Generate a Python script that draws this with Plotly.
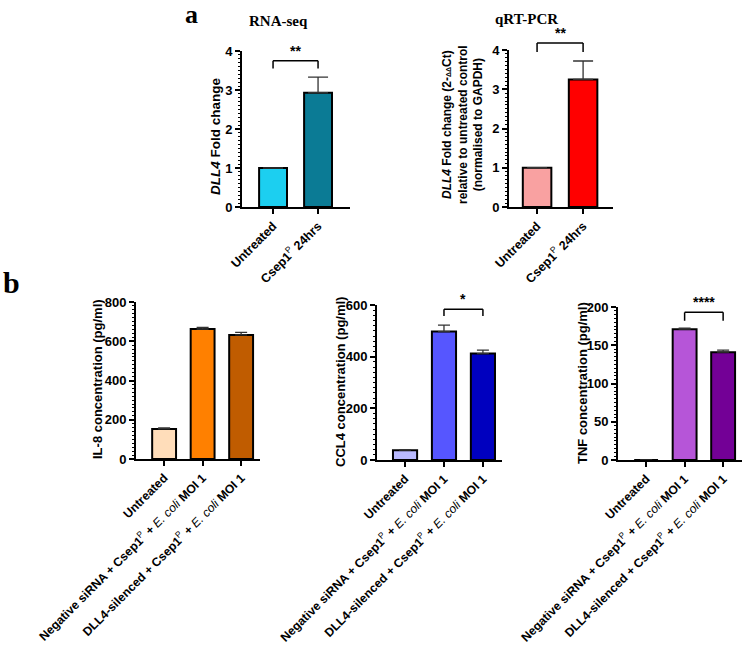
import plotly.graph_objects as go

SANS = "Arial, 'Liberation Sans', sans-serif"
SERIF = "'Times New Roman', 'Liberation Serif', serif"

# ---------------- data ----------------
a_categories = ["<b>Untreated</b>", "<b>Csep1</b><sup>P</sup><b> 24hrs</b>"]
rnaseq_values = [1.0, 2.93]
rnaseq_err = [0.0, 0.40]
qpcr_values = [1.0, 3.25]
qpcr_err = [0.0, 0.47]

b_categories = [
    "<b>Untreated</b>",
    "<b>Negative siRNA + Csep1</b><sup>P</sup><b> + </b><i>E. coli</i><b> MOI 1</b>",
    "<b>DLL4-silenced + Csep1</b><sup>P</sup><b> + </b><i>E. coli</i><b> MOI 1</b>",
]
il8_values = [153, 662, 632]
il8_err = [5, 8, 13]
ccl4_values = [38, 497, 412]
ccl4_err = [2, 25, 13]
tnf_values = [0, 171, 141]
tnf_err = [0, 1.5, 2.5]

# significance: (i, j, bracket level, tip level, label)
rnaseq_sig = [(0, 1, 3.75, 3.55, "**")]
qpcr_sig = [(0, 1, 4.18, 3.95, "**")]
il8_sig = []
ccl4_sig = [(1, 2, 584, 557, "*")]
tnf_sig = [(1, 2, 193, 182, "****")]

panels = [
    dict(cats=a_categories, vals=rnaseq_values, err=rnaseq_err,
         colors=["#1CCFF0", "#0B7B95"], ymax=4, dtick=1, minor=0.1,
         xdom=[242, 350], ydom=[207, 51], xrange=[-0.69, 1.71], cap=10,
         sig=rnaseq_sig, title="<b><i>DLL4</i> Fold change</b>",
         tpos=(215, 137), tsize=13.5, xfont=12.5),
    dict(cats=a_categories, vals=qpcr_values, err=qpcr_err,
         colors=["#F9A1A1", "#FF0000"], ymax=4, dtick=1, minor=0.1,
         xdom=[509, 613], ydom=[207, 50], xrange=[-0.61, 1.65], cap=10,
         sig=qpcr_sig,
         title=("<b><i>DLL4</i> Fold change (2-<span style='font-size:7px'>ΔΔ</span>Ct)</b><br>"
                "<b>relative to untreated control</b><br><b>(normalised to GAPDH)</b>"),
         tpos=(462, 125), tsize=12, xfont=12.5),
    dict(cats=b_categories, vals=il8_values, err=il8_err,
         colors=["#FFDDBA", "#FF8000", "#C05C00"], ymax=800, dtick=200, minor=20,
         xdom=[136, 260], ydom=[459, 302], xrange=[-0.73, 2.49], cap=6,
         sig=il8_sig, title="<b>IL-8 concentration (pg/ml)</b>",
         tpos=(97, 379), tsize=13, xfont=12.2),
    dict(cats=b_categories, vals=ccl4_values, err=ccl4_err,
         colors=["#B9B9FF", "#5656FF", "#0000BF"], ymax=600, dtick=200, minor=20,
         xdom=[377, 502], ydom=[460, 305], xrange=[-0.72, 2.49], cap=6,
         sig=ccl4_sig, title="<b>CCL4 concentration (pg/ml)</b>",
         tpos=(340, 382), tsize=13, xfont=12.2),
    dict(cats=b_categories, vals=tnf_values, err=tnf_err,
         colors=["#E8D0F0", "#B655D8", "#730096"], ymax=200, dtick=50, minor=5,
         xdom=[618, 742], ydom=[460, 307], xrange=[-0.73, 2.49], cap=6,
         sig=tnf_sig, title="<b>TNF concentration (pg/ml)</b>",
         tpos=(582, 383), tsize=13, xfont=12.2),
]

W, H = 750, 647
fig = go.Figure()
shapes = []
annotations = []
layout = {}

for k, p in enumerate(panels, start=1):
    sfx = "" if k == 1 else str(k)
    xr, yr = "x" + sfx, "y" + sfx
    xs = list(range(len(p["vals"])))
    fig.add_trace(go.Bar(
        x=xs, y=p["vals"], xaxis=xr, yaxis=yr, width=0.62,
        marker=dict(color=p["colors"], line=dict(color="black", width=2)),
        error_y=dict(type="data", array=p["err"], arrayminus=[0] * len(xs),
                     symmetric=False, color="#333333", thickness=1.3, width=p["cap"]),
        showlegend=False, hoverinfo="skip",
    ))
    layout["xaxis" + sfx] = dict(
        domain=[p["xdom"][0] / W, p["xdom"][1] / W], anchor=yr,
        range=p["xrange"], tickvals=xs, ticktext=p["cats"], tickangle=-45,
        showline=True, linecolor="black", linewidth=2,
        ticks="outside", ticklen=5, tickwidth=1.5, tickcolor="black",
        showgrid=False, zeroline=False, automargin=False,
        tickfont=dict(family=SANS, size=p["xfont"], color="black"),
    )
    layout["yaxis" + sfx] = dict(
        domain=[1 - p["ydom"][0] / H, 1 - p["ydom"][1] / H], anchor=xr,
        range=[0, p["ymax"]], dtick=p["dtick"], tick0=0,
        showline=True, linecolor="black", linewidth=2,
        ticks="outside", ticklen=5, tickwidth=1.5, tickcolor="black",
        minor=dict(ticks="outside", ticklen=2.5, tickwidth=1, tickcolor="black",
                   dtick=p["minor"], tick0=0),
        showgrid=False, zeroline=False, automargin=False,
        tickfont=dict(family=SANS, size=13, color="black", weight="bold"),
    )
    for (i, j, lvl, tip, lab) in p["sig"]:
        yd = yr + " domain"
        for (x0, y0, x1, y1) in [(xs[i], tip, xs[i], lvl), (xs[i], lvl, xs[j], lvl),
                                 (xs[j], lvl, xs[j], tip)]:
            shapes.append(dict(type="line", xref=xr, yref=yd, x0=x0, x1=x1,
                               y0=y0 / p["ymax"], y1=y1 / p["ymax"],
                               line=dict(color="black", width=1.5)))
        annotations.append(dict(xref=xr, yref=yd, x=(xs[i] + xs[j]) / 2,
                                y=lvl / p["ymax"], yanchor="bottom", yshift=0,
                                text="<b>" + lab + "</b>", showarrow=False,
                                font=dict(family=SANS, size=14, color="black")))
    annotations.append(dict(xref="paper", yref="paper", x=p["tpos"][0] / W,
                            y=1 - p["tpos"][1] / H, text=p["title"], textangle=-90,
                            showarrow=False, xanchor="center", yanchor="middle",
                            font=dict(family=SANS, size=p["tsize"], color="black")))

# panel titles and letters
for txt, px, py, size in [("<b>RNA-seq</b>", 278, 21, 15), ("<b>qRT-PCR</b>", 526, 19, 15),
                          ("<b>a</b>", 191, 15, 26), ("<b>b</b>", 11, 283, 30)]:
    annotations.append(dict(xref="paper", yref="paper", x=px / W, y=1 - py / H,
                            text=txt, showarrow=False, xanchor="center", yanchor="middle",
                            font=dict(family=SERIF, size=size, color="black")))

fig.update_layout(
    width=W, height=H, margin=dict(l=0, r=0, t=0, b=0, autoexpand=False),
    paper_bgcolor="white", plot_bgcolor="white",
    shapes=shapes, annotations=annotations, **layout,
)

fig.write_html("out.html")
